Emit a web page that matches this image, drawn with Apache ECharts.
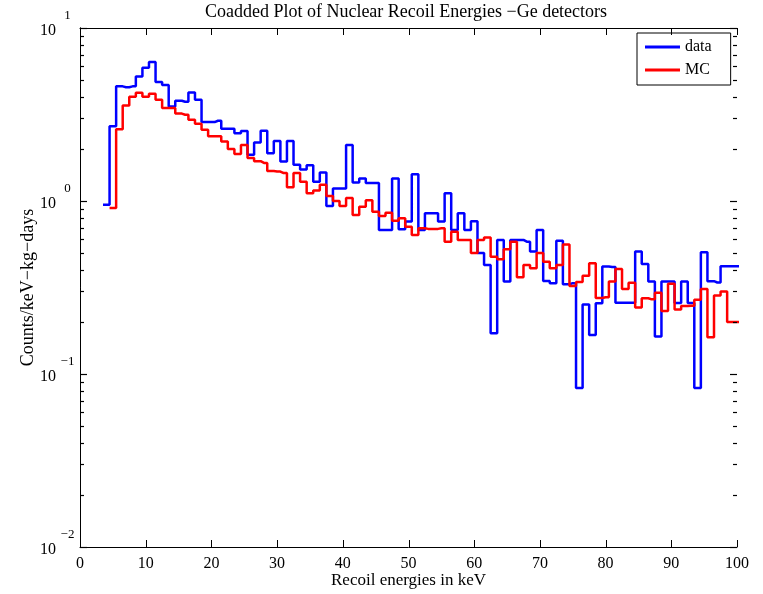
<!DOCTYPE html>
<html>
<head>
<meta charset="utf-8">
<script src="https://cdn.jsdelivr.net/npm/echarts@6/dist/echarts.min.js"></script>
<style>
html,body{margin:0;padding:0;background:#fff;}
#chart{width:763px;height:594px;}
</style>
</head>
<body>
<div id="chart"></div>
<script>
// ---- data (bin centres in keV, bin width 1 keV) ----
const binCentres = [
  4, 5, 6, 7, 8, 9,10,11,12,13,
 14,15,16,17,18,19,20,21,22,23,
 24,25,26,27,28,29,30,31,32,33,
 34,35,36,37,38,39,40,41,42,43,
 44,45,46,47,48,49,50,51,52,53,
 54,55,56,57,58,59,60,61,62,63,
 64,65,66,67,68,69,70,71,72,73,
 74,75,76,77,78,79,80,81,82,83,
 84,85,86,87,88,89,90,91,92,93,
 94,95,96,97,98,99,100
];
const binWidth = 1;

// measured data (counts/keV-kg-days)
const dataValues = [
 0.95, 2.70, 4.60, 4.55, 4.60, 5.25, 5.90, 6.35, 4.88, 4.69,
 3.52, 3.80, 3.75, 4.24, 3.85, 2.86, 2.86, 2.91, 2.62, 2.62,
 2.46, 2.54, 1.85, 2.18, 2.55, 1.89, 2.22, 1.69, 2.22, 1.62,
 1.52, 1.61, 1.29, 1.46, 0.935,1.18, 1.18, 2.11, 1.28, 1.35,
 1.27, 1.27, 0.68, 0.68, 1.35, 0.686,0.76, 1.43, 0.68, 0.85,
 0.85, 0.76, 1.11, 0.68, 0.85, 0.68, 0.765,0.50, 0.427,0.172,
 0.596,0.342,0.596,0.596,0.582,0.51, 0.68, 0.345,0.335,0.59,
 0.33, 0.335,0.083,0.252,0.168,0.256,0.418,0.415,0.258,0.258,
 0.258,0.51, 0.432,0.342,0.165,0.342,0.343,0.257,0.342,0.257,
 0.083,0.505,0.344,0.338,0.42, 0.42, 0.42
];

// Monte Carlo (no entry in the first bin)
const mcValues = [
 null, 0.91, 2.60, 3.56, 4.00, 4.22, 4.00, 4.17, 3.85, 3.45,
 3.45, 3.20, 3.15, 2.95, 2.80, 2.58, 2.37, 2.37, 2.21, 2.00,
 1.87, 2.11, 1.77, 1.70, 1.66, 1.49, 1.48, 1.45, 1.20, 1.45,
 1.29, 1.11, 1.15, 1.24, 1.07, 1.00, 0.935,1.04, 0.83, 0.927,
 1.01, 0.867,0.818,0.855,0.77, 0.794,0.711,0.635,0.695,0.69,
 0.69, 0.695,0.582,0.665,0.596,0.596,0.50, 0.596,0.616,0.476,
 0.46, 0.526,0.582,0.362,0.427,0.408,0.50, 0.446,0.408,0.427,
 0.56, 0.323,0.34, 0.37, 0.436,0.275,0.278,0.343,0.405,0.31,
 0.337,0.242,0.274,0.27, 0.295,0.231,0.332,0.236,0.247,0.248,
 0.269,0.31, 0.163,0.284,0.30, 0.20, 0.20
];

// axis ticks
const xTickValues = [0,10,20,30,40,50,60,70,80,90,100];
const yMajorTicks = [0.01, 0.1, 1, 10];
const yMinorTicks = [
 0.02,0.03,0.04,0.05,0.06,0.07,0.08,0.09,
 0.2,0.3,0.4,0.5,0.6,0.7,0.8,0.9,
 2,3,4,5,6,7,8,9
];

const FONT = 'Liberation Serif';

// step-histogram points: each bin value held from its left edge to its right edge
function histPoints(values) {
  const pts = [];
  let last = -1;
  values.forEach((v, i) => {
    if (v == null) return;
    if (pts.length === 0) pts.push([binCentres[i] - binWidth / 2, v]);
    pts.push([binCentres[i], v]);
    last = i;
  });
  pts.push([binCentres[last] + binWidth / 2, values[last]]);
  return pts;
}

function expText(e) {
  return e < 0 ? '\u2212' + Math.abs(e) : String(e);
}

// tick marks (positions come from the axis scales via api.coord)
function yTickRenderer(len) {
  return function (params, api) {
    const v = api.value(1);
    const p0 = api.coord([0, v]);
    const p1 = api.coord([100, v]);
    const y = Math.round(p0[1]) + 0.5;
    const xl = Math.round(p0[0]);
    const xr = Math.round(p1[0]);
    return {
      type: 'group',
      children: [
        {type: 'line', shape: {x1: xl, y1: y, x2: xl + len, y2: y}, style: {stroke: '#000', lineWidth: 1.2}},
        {type: 'line', shape: {x1: xr, y1: y, x2: xr - len, y2: y}, style: {stroke: '#000', lineWidth: 1.2}}
      ]
    };
  };
}
function xTickRenderer(len) {
  return function (params, api) {
    const x = Math.round(api.coord([api.value(0), 1])[0]) + 0.5;
    const t = Math.round(api.coord([0, 10])[1]);
    const b = Math.round(api.coord([0, 0.01])[1]);
    return {
      type: 'group',
      children: [
        {type: 'line', shape: {x1: x, y1: b, x2: x, y2: b - len}, style: {stroke: '#000', lineWidth: 1}},
        {type: 'line', shape: {x1: x, y1: t, x2: x, y2: t + len}, style: {stroke: '#000', lineWidth: 1}}
      ]
    };
  };
}

const chart = echarts.init(document.getElementById('chart'), null, {renderer: 'canvas'});
const axisLineStyle = {show: true, lineStyle: {color: '#000', width: 1}};
const noTick = {show: false};

chart.setOption({
  animation: false,
  backgroundColor: '#fff',
  textStyle: {fontFamily: FONT, color: '#000'},
  graphic: [{
    type: 'text', x: 406, y: 12,
    style: {
      text: 'Coadded Plot of Nuclear Recoil Energies \u2212Ge detectors',
      font: '18px "' + FONT + '"', fill: '#000',
      textAlign: 'center', textVerticalAlign: 'middle'
    }
  }],
  grid: {left: 80, right: 26, top: 28, bottom: 47, outerBoundsMode: 'none', containLabel: false},
  legend: {
    data: ['data', 'MC'], orient: 'vertical', left: 637, top: 33,
    padding: [6, 19, 7, 8], itemGap: 7, itemWidth: 35, itemHeight: 3, icon: 'rect',
    borderColor: '#000', borderWidth: 1, borderRadius: 0, backgroundColor: '#fff',
    textStyle: {fontFamily: FONT, fontSize: 16, color: '#000'}
  },
  xAxis: [{
    type: 'value', position: 'bottom', min: 0, max: 100, interval: 10,
    axisLine: axisLineStyle, axisTick: noTick,
    axisLabel: {fontFamily: FONT, fontSize: 16, color: '#000', margin: 9},
    splitLine: {show: false},
    name: 'Recoil energies in keV', nameLocation: 'middle', nameGap: 25, nameMoveOverlap: false,
    nameTextStyle: {fontFamily: FONT, fontSize: 17, color: '#000'}
  }, {
    type: 'value', position: 'top', min: 0, max: 100, interval: 10,
    axisLine: axisLineStyle, axisTick: noTick, axisLabel: {show: false}, splitLine: {show: false}
  }],
  yAxis: [{
    type: 'log', logBase: 10, position: 'left', min: 0.01, max: 10,
    axisLine: axisLineStyle, axisTick: noTick,
    axisLabel: {
      margin: 4,
      formatter: v => '{b|10}{s|' + expText(Math.round(Math.log10(v))) + '}',
      rich: {
        b: {fontFamily: FONT, fontSize: 16, color: '#000', padding: [13, 0, 8, 0], verticalAlign: 'bottom'},
        s: {fontFamily: FONT, fontSize: 13, color: '#000', width: 17, align: 'left', padding: [0, 0, 0, 3], verticalAlign: 'top'}
      }
    },
    splitLine: {show: false},
    name: 'Counts/keV\u2212kg\u2212days', nameLocation: 'middle', nameGap: 43, nameRotate: 90, nameMoveOverlap: false,
    nameTextStyle: {fontFamily: FONT, fontSize: 18, color: '#000'}
  }, {
    type: 'log', logBase: 10, position: 'right', min: 0.01, max: 10,
    axisLine: axisLineStyle, axisTick: noTick, axisLabel: {show: false}, splitLine: {show: false}
  }],
  series: [{
    name: 'data', type: 'line', step: 'middle', data: histPoints(dataValues),
    symbol: 'none', showSymbol: false,
    lineStyle: {color: '#0000ff', width: 2.5}, itemStyle: {color: '#0000ff'}, clip: true
  }, {
    name: 'MC', type: 'line', step: 'middle', data: histPoints(mcValues),
    symbol: 'none', showSymbol: false,
    lineStyle: {color: '#ff0000', width: 2.5}, itemStyle: {color: '#ff0000'}, clip: true
  }, {
    name: 'yMinorTicks', type: 'custom', silent: true, z: 50,
    data: yMinorTicks.map(v => [0, v]), encode: {x: 0, y: 1}, clip: false,
    renderItem: yTickRenderer(4)
  }, {
    name: 'yMajorTicks', type: 'custom', silent: true, z: 50,
    data: yMajorTicks.map(v => [0, v]), encode: {x: 0, y: 1}, clip: false,
    renderItem: yTickRenderer(7)
  }, {
    name: 'xTicks', type: 'custom', silent: true, z: 50,
    data: xTickValues.map(v => [v, 1]), encode: {x: 0, y: 1}, clip: false,
    renderItem: xTickRenderer(7)
  }]
});
</script>
</body>
</html>
